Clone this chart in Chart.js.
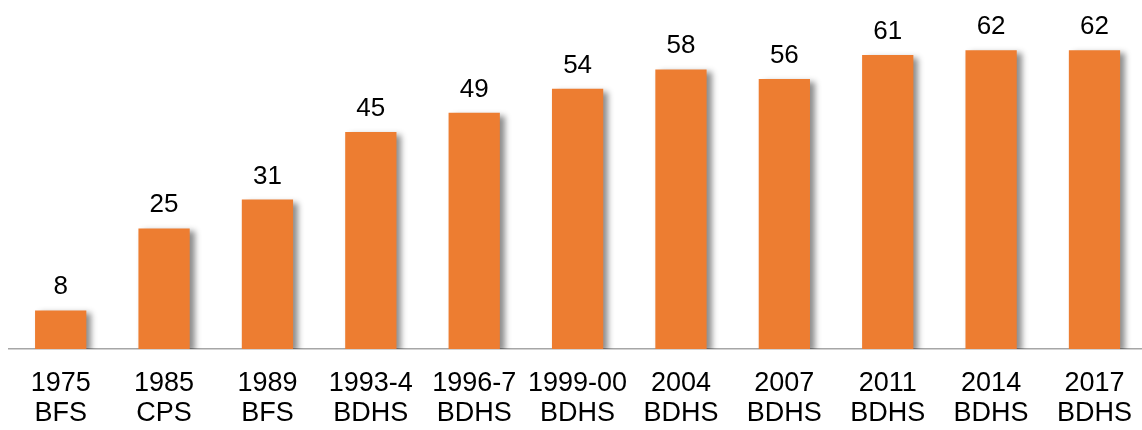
<!DOCTYPE html>
<html>
<head>
<meta charset="utf-8">
<script src="https://cdn.jsdelivr.net/npm/chart.js@4.4.1/dist/chart.umd.min.js"></script>
<style>
  html, body { margin: 0; padding: 0; background: #fff; overflow: hidden; }
  #wrap { position: relative; width: 1151px; height: 430px; }
</style>
</head>
<body>
<div id="wrap"><canvas id="chart-cpr"></canvas></div>
<script>
// survey years and sources (two-line tick labels)
const years = ['1975', '1985', '1989', '1993-4', '1996-7', '1999-00', '2004', '2007', '2011', '2014', '2017'];
const surveys = ['BFS', 'CPS', 'BFS', 'BDHS', 'BDHS', 'BDHS', 'BDHS', 'BDHS', 'BDHS', 'BDHS', 'BDHS'];
const values = [8, 25, 31, 45, 49, 54, 58, 56, 61, 62, 62];

const labels = years.map((y, i) => [y, surveys[i]]);

// soft drop shadow behind the bars
const barShadow = {
  id: 'barShadow',
  beforeDatasetsDraw(chart) {
    const ctx = chart.ctx;
    ctx.save();
    ctx.shadowColor = 'rgba(0, 0, 0, 0.45)';
    ctx.shadowBlur = 6;
    ctx.shadowOffsetX = 5;
    ctx.shadowOffsetY = 3;
  },
  afterDatasetsDraw(chart) {
    chart.ctx.restore();
  }
};

// value on top of each bar
const valueLabels = {
  id: 'valueLabels',
  afterDraw(chart) {
    const ctx = chart.ctx;
    const meta = chart.getDatasetMeta(0);
    ctx.save();
    ctx.font = '26px "Liberation Sans", Arial, sans-serif';
    ctx.fillStyle = '#000';
    ctx.textAlign = 'center';
    ctx.textBaseline = 'alphabetic';
    meta.data.forEach((bar, i) => {
      ctx.fillText(String(values[i]), bar.x, bar.y - 16);
    });
    ctx.restore();
  }
};

new Chart(document.getElementById('chart-cpr'), {
  type: 'bar',
  data: {
    labels: labels,
    datasets: [{
      data: values,
      backgroundColor: '#ED7D31',
      borderWidth: 0,
      categoryPercentage: 1,
      barPercentage: 0.496
    }]
  },
  options: {
    responsive: true,
    maintainAspectRatio: false,
    animation: false,
    layout: { padding: { left: 9, right: 0, top: 0, bottom: 0 } },
    plugins: {
      legend: { display: false },
      tooltip: { enabled: false }
    },
    scales: {
      x: {
        grid: { display: false, drawTicks: false },
        border: { display: true, color: '#a6a6a6', width: 1.5 },
        afterFit(scale) { scale.height = 81; },
        ticks: {
          color: '#000',
          padding: 19,
          maxRotation: 0,
          autoSkip: false,
          font: { family: '"Liberation Sans", Arial, sans-serif', size: 27, lineHeight: 1.13 }
        }
      },
      y: {
        display: false,
        min: 0,
        max: 72.4
      }
    }
  },
  plugins: [barShadow, valueLabels]
});
</script>
</body>
</html>
